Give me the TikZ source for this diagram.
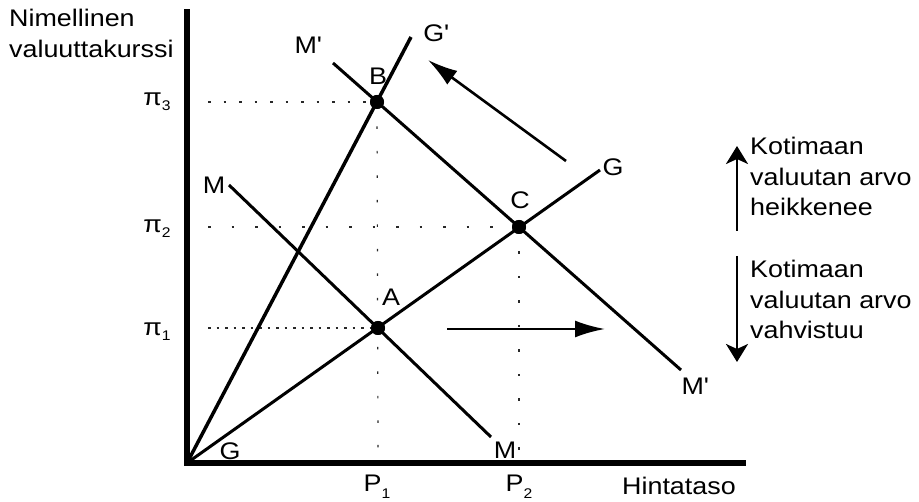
\documentclass[tikz,border=0pt]{standalone}
\usepackage{fontspec}
\setmainfont{Liberation Sans}[FakeStretch=1.12]
\usetikzlibrary{arrows.meta}
\definecolor{curveInk}{RGB}{0,0,0}
\definecolor{guideInk}{RGB}{40,40,40}
\newcommand{\pisub}[1]{π\raisebox{-0.35ex}{\fontsize{14}{14}\selectfont #1}}
\newcommand{\psub}[1]{P\raisebox{-0.5ex}{\fontsize{14}{14}\selectfont #1}}
\tikzset{
  axisline/.style={line width=6pt,line cap=rect},
  curveline/.style={curveInk,line width=3pt},
  guidedots/.style={guideInk,line width=1.2pt,dash pattern=on 2.5pt off #1},
  guidedots/.default=12pt,
  shiftarrow/.style={line width=2.6pt,-{Latex[length=30pt,width=17pt]}},
  sidearrow/.style={line width=2.6pt,-{Stealth[length=18pt,width=22pt,inset=5pt]}},
  eqpoint/.style={circle,fill=black,inner sep=0pt,minimum size=14pt},
  curvelabel/.style={inner sep=1pt},
  sidetext/.style={align=left,anchor=north west,inner sep=0pt}
}
\begin{document}
\begin{tikzpicture}[x=1pt,y=-1pt,font=\fontsize{24}{30.5}\selectfont]
  \useasboundingbox (0,0) rectangle (919,502);
  \coordinate (O) at (187,463);
  \coordinate (ytop) at (187,12);
  \coordinate (xend) at (743,463);
  \node[eqpoint] (A) at (378,328) {};
  \node[eqpoint] (B) at (377,102) {};
  \node[eqpoint] (C) at (519,227) {};
  \coordinate (Gend) at (600,170);
  \coordinate (Gpend) at (411,37);
  \coordinate (Mstart) at (229,185);
  \coordinate (Mend) at (491,437);
  \coordinate (Mpstart) at (333,63);
  \coordinate (Mpend) at (681,370);
  \draw[guidedots=13pt] (208,102) -- (B.center);
  \draw[guidedots=21pt] (208,227) -- (C.center);
  \draw[guidedots=6pt] (208,328) -- (A.center);
  \draw[guidedots=22pt] (B.center) -- (378,448);
  \draw[guidedots=22pt] (C.center) -- (519,456);
  \draw[curveline,line width=3.5pt] (O) -- (Gpend);
  \draw[curveline] (O) -- (Gend);
  \draw[curveline] (Mstart) -- (Mend);
  \draw[curveline] (Mpstart) -- (Mpend);
  \draw[axisline] (ytop) -- (O) -- (xend);
  \node[eqpoint] at (A) {};
  \node[eqpoint] at (B) {};
  \node[eqpoint] at (C) {};
  \node[curvelabel] (labA) at (391,297) {A};
  \node[curvelabel] (labB) at (378,76) {B};
  \node[curvelabel] (labC) at (520,200) {C};
  \node[curvelabel] (labG) at (613,167) {G};
  \node[curvelabel] (labGp) at (436,33) {G\textquotesingle};
  \node[curvelabel] (labG2) at (230,451) {G};
  \node[curvelabel] (labM) at (214,185) {M};
  \node[curvelabel] (labM2) at (505,450) {M};
  \node[curvelabel] (labMp) at (308,45) {M\textquotesingle};
  \node[curvelabel] (labMp2) at (695,386) {M\textquotesingle};
  \node[anchor=base] (pi3) at (157,106) {\pisub{3}};
  \node[anchor=base] (pi2) at (157,233) {\pisub{2}};
  \node[anchor=base] (pi1) at (157,336) {\pisub{1}};
  \node[anchor=base] (P1) at (377,492) {\psub{1}};
  \node[anchor=base] (P2) at (519,492) {\psub{2}};
  \node[anchor=base west,inner sep=0pt] (xlabel) at (622,495) {Hintataso};
  \node[sidetext] (ylabel) at (9,9) {Nimellinen\\valuuttakurssi};
  \coordinate (shiftA) at (447,329);
  \coordinate (shiftB) at (605,329);
  \coordinate (backA) at (566,161);
  \coordinate (backB) at (428,60);
  \draw[shiftarrow] (shiftA) -- (shiftB);
  \draw[shiftarrow] (backA) -- (backB);
  \coordinate (upA) at (737,231);
  \coordinate (upB) at (737,146);
  \coordinate (downA) at (737,256);
  \coordinate (downB) at (737,362);
  \draw[sidearrow] (upA) -- (upB);
  \draw[sidearrow] (downA) -- (downB);
  \node[sidetext] (weak) at (750,137) {Kotimaan\\valuutan arvo\\heikkenee};
  \node[sidetext] (strong) at (750,260) {Kotimaan\\valuutan arvo\\vahvistuu};
\end{tikzpicture}
\end{document}
